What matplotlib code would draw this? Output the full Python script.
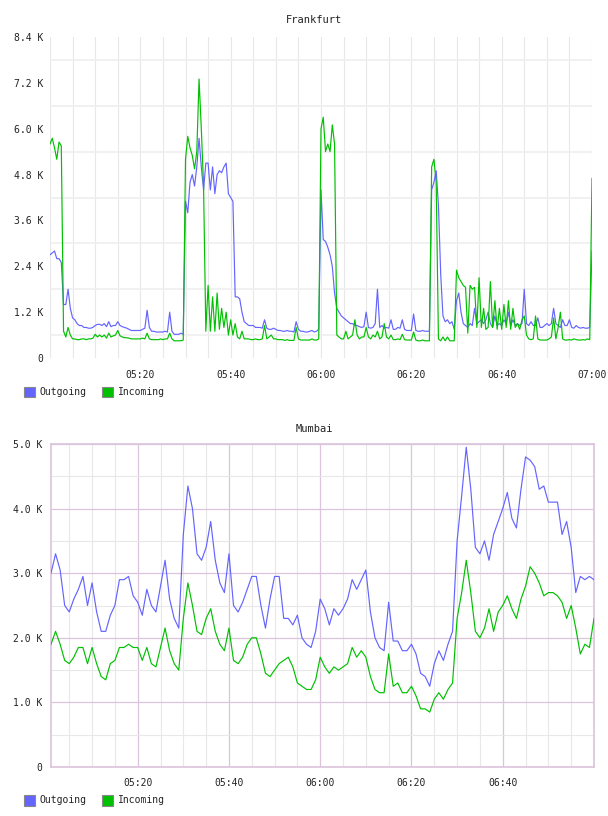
import numpy as np
import matplotlib
matplotlib.use("Agg")
import matplotlib.pyplot as plt
from matplotlib.ticker import FuncFormatter, MultipleLocator, FixedLocator
from matplotlib.patches import Rectangle

plt.rcParams['font.family'] = ['DejaVu Sans Mono']
plt.rcParams['font.size'] = 7

# ---------------- data (values in thousands) ----------------
series_names = ["Outgoing", "Incoming"]

# Frankfurt: samples every 30 s from 05:00 to 07:00
frankfurt_start_min = 0.0
frankfurt_step_min = 0.5
frankfurt_outgoing = [
    2.7, 2.75, 2.8, 2.6, 2.6, 2.5, 1.4, 1.4, 1.8, 1.3,
    1.05, 1.0, 0.9, 0.85, 0.85, 0.8, 0.8, 0.78, 0.78, 0.8,
    0.85, 0.88, 0.88, 0.85, 0.9, 0.82, 0.95, 0.82, 0.85, 0.85,
    0.95, 0.85, 0.82, 0.8, 0.78, 0.75, 0.72, 0.72, 0.72, 0.72,
    0.72, 0.75, 0.78, 1.25, 0.8, 0.7, 0.7, 0.68, 0.68, 0.68,
    0.68, 0.7, 0.68, 1.2, 0.7, 0.62, 0.62, 0.62, 0.65, 0.62,
    4.1, 3.8, 4.6, 4.8, 4.5, 5.0, 5.75, 5.0, 4.4, 5.1,
    5.1, 4.4, 5.0, 4.3, 4.8, 4.9, 4.85, 5.0, 5.1, 4.3,
    4.2, 4.1, 1.6, 1.6, 1.55, 1.2, 0.95, 0.9, 0.85, 0.85,
    0.85, 0.8, 0.8, 0.8, 0.78, 1.0, 0.78, 0.75, 0.75, 0.78,
    0.75, 0.72, 0.72, 0.7, 0.7, 0.72, 0.7, 0.7, 0.68, 0.95,
    0.75, 0.7, 0.7, 0.68, 0.68, 0.7, 0.72, 0.68, 0.7, 0.75,
    4.4, 3.1, 3.05, 2.9, 2.7, 2.4, 1.7, 1.3, 1.2, 1.1,
    1.05, 1.0, 0.95, 0.9, 0.9, 0.85, 0.85, 0.82, 0.8, 0.82,
    1.2, 0.8, 0.78, 0.8, 0.9, 1.8, 0.8, 0.85, 0.78, 0.8,
    0.78, 1.0, 0.75, 0.75, 0.8, 0.78, 1.0, 0.75, 0.72, 0.72,
    0.72, 1.15, 0.72, 0.7, 0.7, 0.72, 0.7, 0.7, 0.7, 4.4,
    4.6, 4.9, 4.0, 2.2, 1.1, 0.95, 1.0, 0.9, 0.95, 0.75,
    1.5, 1.7, 1.2, 0.9, 0.85, 0.8, 0.9, 0.85, 1.3, 0.9,
    0.95, 1.0, 0.9, 1.0, 1.2, 0.9, 0.8, 1.1, 0.85, 0.9,
    0.85, 1.0, 0.9, 1.2, 0.85, 1.0, 0.85, 0.9, 0.85, 0.9,
    1.8, 0.9, 0.85, 0.95, 0.85, 0.85, 1.05, 0.8, 0.8, 0.85,
    0.9, 0.85, 0.9, 1.3, 0.9, 0.85, 0.8, 1.0, 0.85, 0.85,
    1.0, 0.8, 0.78, 0.85, 0.8, 0.78, 0.8, 0.78, 0.78, 0.8,
    2.8,
]
frankfurt_incoming = [
    5.6, 5.75, 5.5, 5.2, 5.65, 5.55, 0.7, 0.55, 0.8, 0.6,
    0.5, 0.5, 0.48, 0.48, 0.5, 0.5, 0.48, 0.5, 0.5, 0.52,
    0.62, 0.55, 0.6, 0.55, 0.6, 0.52, 0.65, 0.55, 0.58, 0.6,
    0.72, 0.58, 0.55, 0.53, 0.53, 0.52, 0.5, 0.5, 0.5, 0.5,
    0.5, 0.52, 0.5, 0.65, 0.5, 0.48, 0.48, 0.48, 0.48, 0.5,
    0.48, 0.5, 0.5, 0.65, 0.5, 0.45, 0.45, 0.45, 0.45, 0.47,
    5.2, 5.8, 5.5, 5.3, 4.95, 5.4, 7.3, 6.0, 4.5, 0.7,
    1.9, 0.7, 1.6, 0.7, 1.7, 0.75, 1.3, 0.8, 1.2, 0.6,
    1.0, 0.6, 0.9, 0.55, 0.5, 0.7, 0.5, 0.5, 0.5, 0.48,
    0.48, 0.5, 0.48, 0.48, 0.5, 0.85, 0.5, 0.55, 0.6, 0.5,
    0.5, 0.48, 0.48, 0.48, 0.46, 0.48, 0.46, 0.46, 0.46, 0.8,
    0.5, 0.47, 0.47, 0.47, 0.47, 0.47, 0.5, 0.47, 0.47, 0.5,
    6.0, 6.3, 5.4, 5.6, 5.4, 6.1, 5.6, 0.6, 0.55, 0.5,
    0.5, 0.7, 0.5, 0.55, 0.6, 1.0, 0.6, 0.5, 0.55, 0.55,
    0.8, 0.55, 0.5, 0.6, 0.55, 0.7, 0.5, 0.55, 0.9, 0.55,
    0.5, 0.6, 0.48, 0.48, 0.5, 0.48, 0.62, 0.48, 0.47, 0.47,
    0.47, 0.68, 0.47, 0.45, 0.45, 0.47, 0.45, 0.45, 0.45, 5.0,
    5.2, 4.6, 0.5, 0.45, 0.55, 0.45, 0.55, 0.45, 0.45, 0.45,
    2.3, 2.1, 2.0, 1.9, 1.85, 0.65, 1.9, 1.8, 1.85, 0.8,
    2.1, 0.8, 1.3, 0.75, 0.8, 2.0, 0.8, 1.5, 0.75, 1.3,
    0.75, 1.4, 0.8, 1.5, 0.75, 1.3, 0.8, 0.9, 0.75, 1.0,
    1.1, 0.6, 0.5, 0.48, 0.5, 1.1, 0.5, 0.47, 0.47, 0.47,
    0.47, 0.5, 0.55, 1.05, 0.5, 0.8, 1.2, 0.5, 0.47, 0.47,
    0.48, 0.47, 0.5, 0.48, 0.47, 0.47, 0.48, 0.47, 0.5, 0.48,
    4.7,
]

# Mumbai: samples every minute from 05:01 to 07:00
mumbai_start_min = 1.0
mumbai_step_min = 1.0
mumbai_outgoing = [
    3.0, 3.3, 3.05, 2.5, 2.4, 2.6, 2.75, 2.95, 2.5, 2.85,
    2.4, 2.1, 2.1, 2.35, 2.5, 2.9, 2.9, 2.95, 2.65, 2.55,
    2.35, 2.75, 2.5, 2.4, 2.8, 3.2, 2.6, 2.3, 2.15, 3.6,
    4.35, 4.0, 3.3, 3.2, 3.4, 3.8, 3.2, 2.85, 2.7, 3.3,
    2.5, 2.4, 2.55, 2.75, 2.95, 2.95, 2.5, 2.15, 2.6, 2.95,
    2.95, 2.3, 2.3, 2.2, 2.35, 2.0, 1.9, 1.85, 2.1, 2.6,
    2.45, 2.2, 2.45, 2.35, 2.45, 2.6, 2.9, 2.75, 2.9, 3.05,
    2.4, 2.0, 1.85, 1.8, 2.55, 1.95, 1.95, 1.8, 1.8, 1.9,
    1.75, 1.45, 1.4, 1.25, 1.6, 1.8, 1.65, 1.9, 2.1, 3.5,
    4.2, 4.95, 4.3, 3.4, 3.3, 3.5, 3.2, 3.6, 3.8, 4.0,
    4.25, 3.85, 3.7, 4.3, 4.8, 4.75, 4.65, 4.3, 4.35, 4.1,
    4.1, 4.1, 3.6, 3.8, 3.4, 2.7, 2.95, 2.9, 2.95, 2.9,
]
mumbai_incoming = [
    1.9, 2.1, 1.9, 1.65, 1.6, 1.7, 1.85, 1.85, 1.6, 1.85,
    1.6, 1.4, 1.35, 1.6, 1.65, 1.85, 1.85, 1.9, 1.85, 1.85,
    1.65, 1.85, 1.6, 1.55, 1.85, 2.15, 1.8, 1.6, 1.5, 2.3,
    2.85, 2.5, 2.1, 2.05, 2.3, 2.45, 2.1, 1.9, 1.8, 2.15,
    1.65, 1.6, 1.7, 1.9, 2.0, 2.0, 1.75, 1.45, 1.4, 1.5,
    1.6, 1.65, 1.7, 1.55, 1.3, 1.25, 1.2, 1.2, 1.35, 1.7,
    1.55, 1.45, 1.55, 1.5, 1.55, 1.6, 1.85, 1.7, 1.8, 1.7,
    1.4, 1.2, 1.15, 1.15, 1.75, 1.25, 1.3, 1.15, 1.15, 1.25,
    1.1, 0.9, 0.9, 0.85, 1.05, 1.15, 1.05, 1.2, 1.3, 2.3,
    2.7, 3.2, 2.7, 2.1, 2.0, 2.15, 2.45, 2.1, 2.4, 2.5,
    2.65, 2.45, 2.3, 2.6, 2.8, 3.1, 3.0, 2.85, 2.65, 2.7,
    2.7, 2.65, 2.55, 2.3, 2.5, 2.15, 1.75, 1.9, 1.85, 2.3,
]

frankfurt_yticks = [0, 1.2, 2.4, 3.6, 4.8, 6.0, 7.2, 8.4]
mumbai_yticks = [0, 1.0, 2.0, 3.0, 4.0, 5.0]
frankfurt_xticks = [20, 40, 60, 80, 100, 120]
mumbai_xticks = [20, 40, 60, 80, 100]

# ---------------- styling ----------------
W, H = 608, 816
C_OUT = '#6464ff'
C_IN = '#00c000'
GRID_GRAY = '#e8e8e8'
GRID_PINK = '#dcc4dc'
TXT = '#222222'
LW = 0.85

fig = plt.figure(figsize=(W / 100, H / 100), dpi=100)


def px_axes(l, t, r, b):
    return fig.add_axes([l / W, 1 - b / H, (r - l) / W, (b - t) / H])


def time_fmt(v, pos=None):
    m = int(round(v))
    return "%02d:%02d" % (5 + m // 60, m % 60)


def k_fmt(v, pos=None):
    return "0" if abs(v) < 1e-9 else "%.1f K" % v


def times(start, step, n):
    return start + step * np.arange(n)


# ---- Frankfurt ----
ax1 = px_axes(50, 37, 592, 358)
t1 = times(frankfurt_start_min, frankfurt_step_min, len(frankfurt_outgoing))
ax1.plot(t1, frankfurt_outgoing, color=C_OUT, lw=LW, zorder=3)
ax1.plot(t1, frankfurt_incoming, color=C_IN, lw=LW, zorder=4)
ax1.set_xlim(0, 120)
ax1.set_ylim(0, 8.4)
ax1.yaxis.set_major_locator(FixedLocator(frankfurt_yticks))
ax1.yaxis.set_minor_locator(FixedLocator([v + 0.6 for v in frankfurt_yticks[:-1]]))
ax1.yaxis.set_major_formatter(FuncFormatter(k_fmt))
ax1.xaxis.set_major_locator(FixedLocator(frankfurt_xticks))
ax1.xaxis.set_minor_locator(MultipleLocator(5))
ax1.xaxis.set_major_formatter(FuncFormatter(time_fmt))
ax1.yaxis.grid(True, which='minor', color='#efefef', lw=1.2)
ax1.xaxis.grid(True, which='both', color=GRID_GRAY, lw=0.8)
ax1.set_axisbelow(True)
for s in ax1.spines.values():
    s.set_visible(False)
ax1.tick_params(which='both', length=0, colors=TXT, labelsize=7)
ax1.tick_params(axis='y', pad=5)
ax1.tick_params(axis='x', pad=9)

# ---- Mumbai ----
ax2 = px_axes(51, 444, 594, 767)
t2 = times(mumbai_start_min, mumbai_step_min, len(mumbai_outgoing))
ax2.plot(t2, mumbai_outgoing, color=C_OUT, lw=LW, zorder=3)
ax2.plot(t2, mumbai_incoming, color=C_IN, lw=LW, zorder=4)
ax2.set_xlim(1, 120)
ax2.set_ylim(0, 5.0)
ax2.yaxis.set_major_locator(FixedLocator(mumbai_yticks))
ax2.yaxis.set_minor_locator(MultipleLocator(0.5))
ax2.yaxis.set_major_formatter(FuncFormatter(k_fmt))
ax2.xaxis.set_major_locator(FixedLocator(mumbai_xticks))
ax2.xaxis.set_minor_locator(MultipleLocator(5))
ax2.xaxis.set_major_formatter(FuncFormatter(time_fmt))
ax2.grid(True, which='minor', color=GRID_GRAY, lw=0.8)
ax2.grid(True, which='major', color=GRID_PINK, lw=0.9)
ax2.set_axisbelow(True)
for s in ax2.spines.values():
    s.set_color(GRID_PINK)
    s.set_linewidth(1.2)
ax2.tick_params(which='both', length=0, colors=TXT, labelsize=7)
ax2.tick_params(axis='y', pad=6)
ax2.tick_params(axis='x', pad=8)

# ---- titles ----
fig.text(314 / W, 1 - 20 / H, "Frankfurt", ha='center', va='center', fontsize=7.5, color=TXT)
fig.text(314 / W, 1 - 429 / H, "Mumbai", ha='center', va='center', fontsize=7.5, color=TXT)


# ---- legends ----
def legend(yc):
    entries = [(24, 39, C_OUT, series_names[0]), (102, 118, C_IN, series_names[1])]
    for xs, xt, col, name in entries:
        fig.add_artist(Rectangle((xs / W, 1 - (yc + 5.5) / H), 11 / W, 11 / H,
                                 transform=fig.transFigure, facecolor=col,
                                 edgecolor='#888888', lw=0.8))
        fig.text(xt / W, 1 - yc / H, name, ha='left', va='center', fontsize=7, color=TXT)


legend(392)
legend(800)

fig.savefig("out.png", dpi=100, facecolor='white')
